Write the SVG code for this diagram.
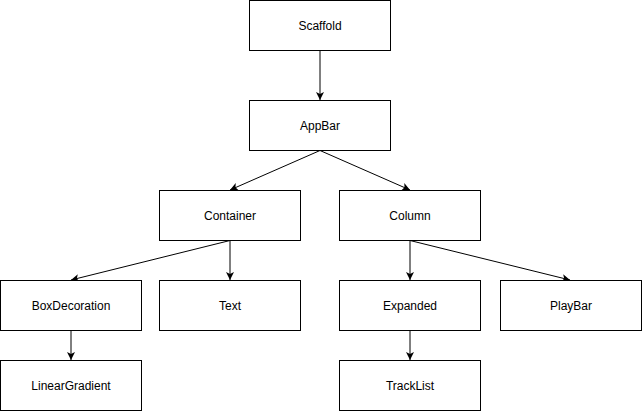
<svg xmlns="http://www.w3.org/2000/svg" width="642" height="411" viewBox="0 0 642 411">
<style>
.box{fill:#fff;stroke:#000;stroke-width:1}
.lbl{font-family:"Liberation Sans",Arial,sans-serif;font-size:12px;fill:#000;text-anchor:middle;dominant-baseline:central}
.edge{stroke:#000;stroke-width:1;fill:none;marker-end:url(#arr)}
</style>
<defs>
<marker id="arr" markerWidth="10" markerHeight="10" refX="8" refY="4" orient="auto" markerUnits="userSpaceOnUse">
<path d="M0,0 L8,4 L0,8 L2,4 Z" fill="#000"/>
</marker>
</defs>
<rect width="642" height="411" fill="#fff"/>
<g id="edges">
<line class="edge" x1="320" y1="50.5" x2="320" y2="100"/>
<line class="edge" x1="320" y1="150.5" x2="230" y2="190"/>
<line class="edge" x1="320" y1="150.5" x2="410" y2="190"/>
<line class="edge" x1="230" y1="240.5" x2="71" y2="280"/>
<line class="edge" x1="230" y1="240.5" x2="230" y2="280"/>
<line class="edge" x1="410" y1="240.5" x2="410" y2="280"/>
<line class="edge" x1="410" y1="240.5" x2="570" y2="280"/>
<line class="edge" x1="71" y1="330.5" x2="71" y2="360"/>
<line class="edge" x1="410" y1="330.5" x2="410" y2="360"/>
</g>
<g id="scaffold"><rect class="box" x="249.5" y="0.5" width="141" height="50"/><text class="lbl" x="320" y="25.5">Scaffold</text></g>
<g id="appbar"><rect class="box" x="249.5" y="100.5" width="141" height="50"/><text class="lbl" x="320" y="125.5">AppBar</text></g>
<g id="container"><rect class="box" x="159.5" y="190.5" width="141" height="50"/><text class="lbl" x="230" y="215.5">Container</text></g>
<g id="column"><rect class="box" x="339.5" y="190.5" width="141" height="50"/><text class="lbl" x="410" y="215.5">Column</text></g>
<g id="boxdecoration"><rect class="box" x="0.5" y="280.5" width="141" height="50"/><text class="lbl" x="71" y="305.5">BoxDecoration</text></g>
<g id="text"><rect class="box" x="159.5" y="280.5" width="141" height="50"/><text class="lbl" x="230" y="305.5">Text</text></g>
<g id="expanded"><rect class="box" x="339.5" y="280.5" width="141" height="50"/><text class="lbl" x="410" y="305.5">Expanded</text></g>
<g id="playbar"><rect class="box" x="500.5" y="280.5" width="141" height="50"/><text class="lbl" x="571" y="305.5">PlayBar</text></g>
<g id="lineargradient"><rect class="box" x="0.5" y="360.5" width="141" height="50"/><text class="lbl" x="71" y="385.5">LinearGradient</text></g>
<g id="tracklist"><rect class="box" x="339.5" y="360.5" width="141" height="50"/><text class="lbl" x="410" y="385.5">TrackList</text></g>
</svg>
